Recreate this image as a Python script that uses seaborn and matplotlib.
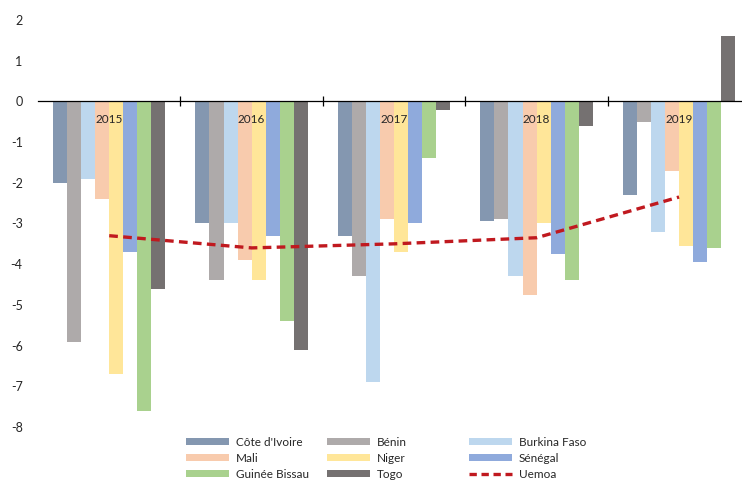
import numpy as np
import pandas as pd
import seaborn as sns
import matplotlib
matplotlib.use("Agg")
from matplotlib import pyplot as plt
from matplotlib.patches import Patch
from matplotlib.lines import Line2D

years = ["2015", "2016", "2017", "2018", "2019"]
countries = ["Côte d'Ivoire", "Bénin", "Burkina Faso", "Mali", "Niger",
             "Sénégal", "Guinée Bissau", "Togo"]

cote_ivoire = [-2.0, -3.0, -3.3, -2.95, -2.3]
benin = [-5.9, -4.4, -4.3, -2.9, -0.5]
burkina = [-1.9, -3.0, -6.9, -4.3, -3.2]
mali = [-2.4, -3.9, -2.9, -4.75, -1.7]
niger = [-6.7, -4.4, -3.7, -3.0, -3.55]
senegal = [-3.7, -3.3, -3.0, -3.75, -3.95]
guinee_bissau = [-7.6, -5.4, -1.4, -4.4, -3.6]
togo = [-4.6, -6.1, -0.2, -0.6, 1.6]
uemoa = [-3.3, -3.6, -3.5, -3.35, -2.35]

colors = ["#8497B0", "#AEAAAA", "#BDD7EE", "#F8CBAD", "#FFE699",
          "#8FAADC", "#A9D18E", "#757171"]
line_color = "#C0191F"


def main():
    series = [cote_ivoire, benin, burkina, mali, niger, senegal, guinee_bissau, togo]
    rows = []
    for name, vals in zip(countries, series):
        for y, v in zip(years, vals):
            rows.append({"year": y, "pays": name, "solde": v})
    df = pd.DataFrame(rows)

    sns.set_style("white")
    plt.rcParams['font.family'] = ['Lato', 'DejaVu Sans']
    plt.rcParams['axes.unicode_minus'] = False

    fig = plt.figure(figsize=(7.42, 4.8), dpi=100)
    ax = fig.add_axes([0.0512, 0.1104, 0.960, 0.848])

    sns.barplot(data=df, x="year", y="solde", hue="pays", hue_order=countries,
                palette=colors, width=0.79, saturation=1, legend=False, ax=ax,
                linewidth=0, errorbar=None)

    line_df = pd.DataFrame({"x": np.arange(len(years)), "uemoa": uemoa})
    sns.lineplot(data=line_df, x="x", y="uemoa", color=line_color, lw=2.4,
                 dashes=False, ax=ax, zorder=5)
    ax.lines[-1].set_dashes((2.6, 1.6))

    ax.set_xlim(-0.5, 4.5)
    ax.set_ylim(-8, 2)
    ax.set_yticks(range(-8, 3))
    ax.set_xlabel("")
    ax.set_ylabel("")

    for s in ["top", "right", "left"]:
        ax.spines[s].set_visible(False)
    ax.spines["bottom"].set_position(("data", 0))
    ax.spines["bottom"].set_color("black")
    ax.spines["bottom"].set_linewidth(0.9)

    ax.set_xticks(np.arange(len(years)))
    ax.set_xticklabels([])
    ax.set_xticks([0.5, 1.5, 2.5, 3.5], minor=True)
    ax.tick_params(axis="x", which="major", length=0)
    ax.tick_params(axis="x", which="minor", length=7, direction="inout",
                   width=0.9, color="black", bottom=True)
    ax.tick_params(axis="y", length=0, pad=11, labelsize=9, labelcolor="#262626")

    # year labels sit just under the zero line, over the bars
    for i, y in enumerate(years):
        ax.text(i, -0.44, y, ha="center", va="center", fontsize=8.5,
                color="#262626", zorder=10)

    # legend, three columns placed like the original
    col_items = [
        [(countries[0], colors[0]), (countries[3], colors[3]), (countries[6], colors[6])],
        [(countries[1], colors[1]), (countries[4], colors[4]), (countries[7], colors[7])],
        [(countries[2], colors[2]), (countries[5], colors[5]), ("Uemoa", None)],
    ]
    col_x = [186 / 742, 327 / 742, 469 / 742]
    for cx, items in zip(col_x, col_items):
        handles = []
        labels = []
        for lab, c in items:
            if c is None:
                handles.append(Line2D([0], [0], color=line_color, lw=2.4,
                                      dashes=(2.2, 1.4)))
            else:
                handles.append(Patch(facecolor=c, edgecolor="none"))
            labels.append(lab)
        fig.legend(handles, labels, loc="upper left", bbox_to_anchor=(cx, 1 - 437 / 480),
                   frameon=False, fontsize=8.5, handlelength=3.6, handleheight=0.55,
                   labelspacing=0.42, handletextpad=0.6, borderpad=0, borderaxespad=0,
                   labelcolor="#262626")

    fig.savefig("out.png", dpi=100)


if __name__ == '__main__':
    main()
